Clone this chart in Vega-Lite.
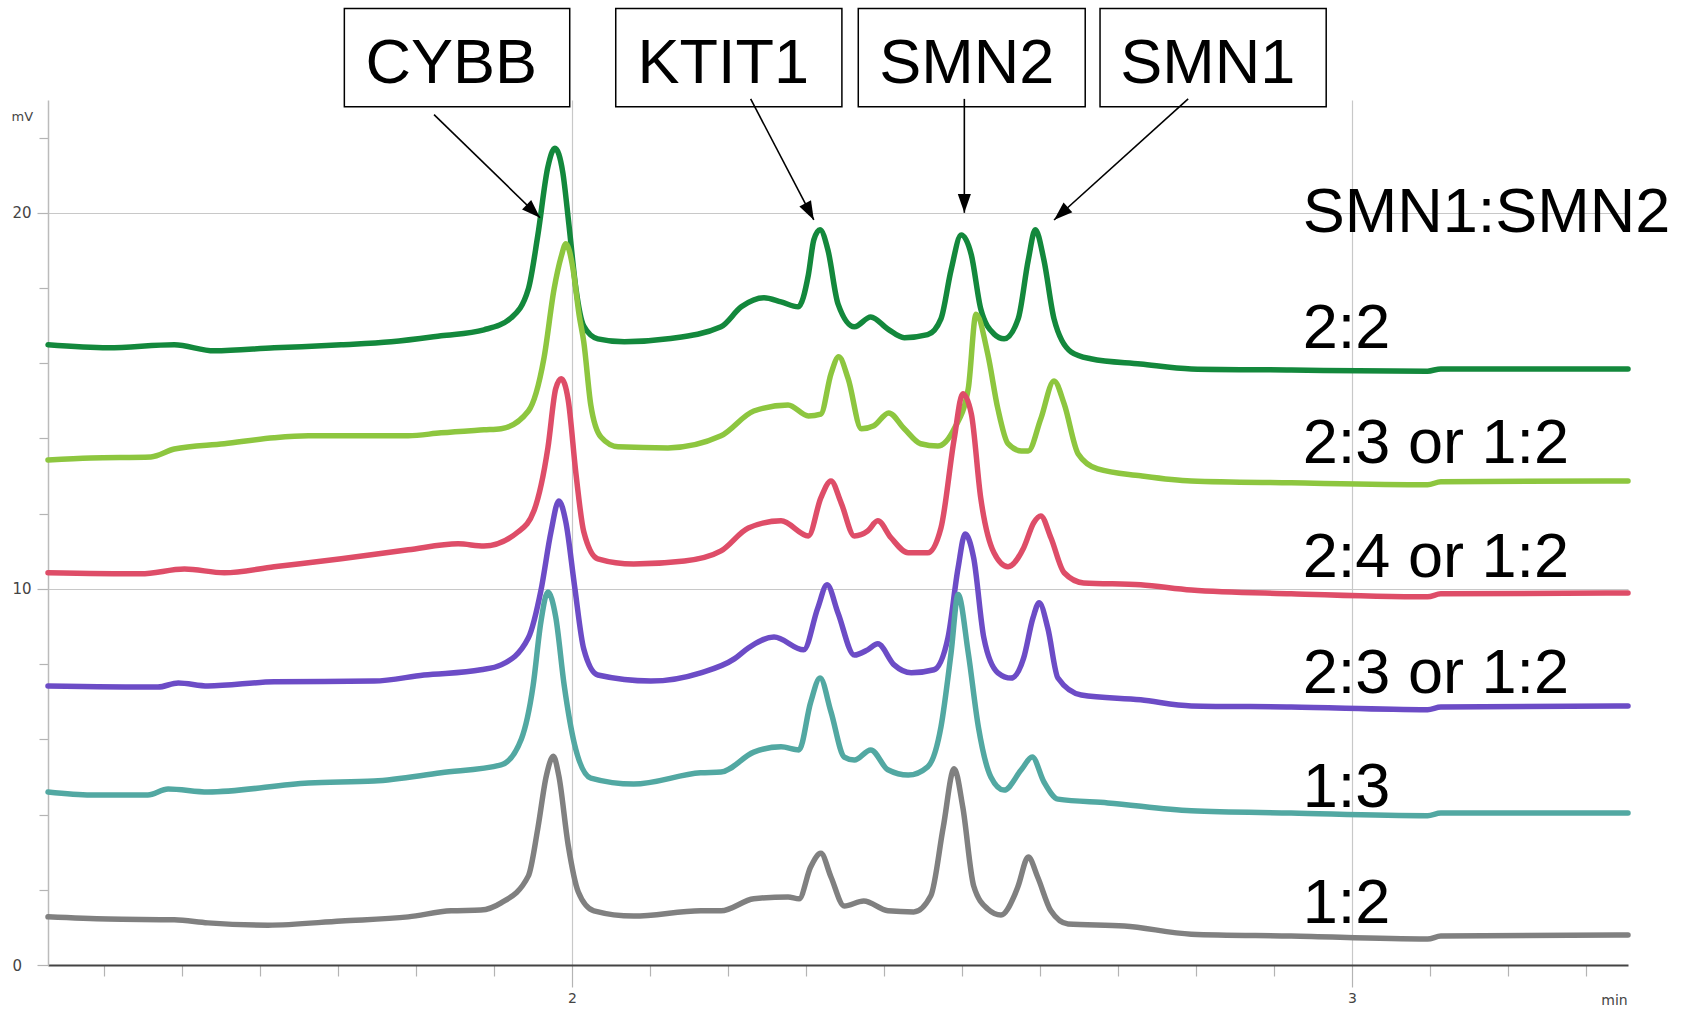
{
  "$schema": "https://vega.github.io/schema/vega-lite/v6.json",
  "width": 1580,
  "height": 865,
  "autosize": {"type": "none"},
  "padding": {"left": 48, "top": 100, "right": 63, "bottom": 44},
  "background": "white",
  "config": {"view": {"stroke": null}, "font": "Liberation Sans"},
  "datasets": {
    "traces": [
      {"s":"A","t":1.328,"v":16.49},{"s":"A","t":1.405,"v":16.41},{"s":"A","t":1.490,"v":16.49},{"s":"A","t":1.541,"v":16.33},{"s":"A","t":1.618,"v":16.41},{"s":"A","t":1.704,"v":16.49},{"s":"A","t":1.768,"v":16.57},{"s":"A","t":1.832,"v":16.73},{"s":"A","t":1.887,"v":16.89},{"s":"A","t":1.922,"v":17.21},{"s":"A","t":1.944,"v":17.98},{"s":"A","t":1.956,"v":19.39},{"s":"A","t":1.969,"v":21.22},{"s":"A","t":1.978,"v":21.72},{"s":"A","t":1.988,"v":21.09},{"s":"A","t":1.996,"v":19.68},{"s":"A","t":2.005,"v":17.98},{"s":"A","t":2.015,"v":16.99},{"s":"A","t":2.033,"v":16.65},{"s":"A","t":2.067,"v":16.57},{"s":"A","t":2.123,"v":16.65},{"s":"A","t":2.191,"v":16.97},{"s":"A","t":2.217,"v":17.50},{"s":"A","t":2.246,"v":17.74},{"s":"A","t":2.268,"v":17.63},{"s":"A","t":2.290,"v":17.50},{"s":"A","t":2.303,"v":18.35},{"s":"A","t":2.310,"v":19.28},{"s":"A","t":2.318,"v":19.55},{"s":"A","t":2.328,"v":19.02},{"s":"A","t":2.341,"v":17.58},{"s":"A","t":2.362,"v":16.97},{"s":"A","t":2.383,"v":17.23},{"s":"A","t":2.405,"v":16.91},{"s":"A","t":2.426,"v":16.68},{"s":"A","t":2.456,"v":16.76},{"s":"A","t":2.473,"v":17.18},{"s":"A","t":2.486,"v":18.48},{"s":"A","t":2.499,"v":19.41},{"s":"A","t":2.512,"v":18.88},{"s":"A","t":2.524,"v":17.45},{"s":"A","t":2.541,"v":16.78},{"s":"A","t":2.554,"v":16.65},{"s":"A","t":2.572,"v":17.18},{"s":"A","t":2.585,"v":18.75},{"s":"A","t":2.594,"v":19.55},{"s":"A","t":2.605,"v":18.75},{"s":"A","t":2.618,"v":17.18},{"s":"A","t":2.640,"v":16.30},{"s":"A","t":2.665,"v":16.12},{"s":"A","t":2.729,"v":15.98},{"s":"A","t":2.794,"v":15.85},{"s":"A","t":2.922,"v":15.82},{"s":"A","t":3.097,"v":15.79},{"s":"A","t":3.114,"v":15.85},{"s":"A","t":3.354,"v":15.85},
      {"s":"B","t":1.328,"v":13.43},{"s":"B","t":1.383,"v":13.48},{"s":"B","t":1.460,"v":13.51},{"s":"B","t":1.490,"v":13.72},{"s":"B","t":1.554,"v":13.86},{"s":"B","t":1.618,"v":14.02},{"s":"B","t":1.662,"v":14.07},{"s":"B","t":1.790,"v":14.07},{"s":"B","t":1.832,"v":14.15},{"s":"B","t":1.887,"v":14.23},{"s":"B","t":1.909,"v":14.26},{"s":"B","t":1.944,"v":14.73},{"s":"B","t":1.964,"v":16.14},{"s":"B","t":1.977,"v":17.98},{"s":"B","t":1.986,"v":18.83},{"s":"B","t":1.992,"v":19.18},{"s":"B","t":2.001,"v":18.54},{"s":"B","t":2.009,"v":17.29},{"s":"B","t":2.015,"v":16.57},{"s":"B","t":2.024,"v":14.89},{"s":"B","t":2.037,"v":14.04},{"s":"B","t":2.059,"v":13.78},{"s":"B","t":2.123,"v":13.75},{"s":"B","t":2.191,"v":14.07},{"s":"B","t":2.233,"v":14.73},{"s":"B","t":2.277,"v":14.89},{"s":"B","t":2.303,"v":14.60},{"s":"B","t":2.319,"v":14.65},{"s":"B","t":2.332,"v":15.72},{"s":"B","t":2.342,"v":16.17},{"s":"B","t":2.354,"v":15.59},{"s":"B","t":2.371,"v":14.26},{"s":"B","t":2.387,"v":14.34},{"s":"B","t":2.406,"v":14.68},{"s":"B","t":2.426,"v":14.26},{"s":"B","t":2.447,"v":13.86},{"s":"B","t":2.469,"v":13.80},{"s":"B","t":2.490,"v":14.26},{"s":"B","t":2.508,"v":15.32},{"s":"B","t":2.518,"v":17.30},{"s":"B","t":2.533,"v":16.25},{"s":"B","t":2.546,"v":14.79},{"s":"B","t":2.559,"v":13.86},{"s":"B","t":2.576,"v":13.67},{"s":"B","t":2.585,"v":13.67},{"s":"B","t":2.601,"v":14.52},{"s":"B","t":2.618,"v":15.53},{"s":"B","t":2.631,"v":14.92},{"s":"B","t":2.649,"v":13.59},{"s":"B","t":2.674,"v":13.19},{"s":"B","t":2.729,"v":13.01},{"s":"B","t":2.794,"v":12.87},{"s":"B","t":2.922,"v":12.82},{"s":"B","t":3.097,"v":12.77},{"s":"B","t":3.114,"v":12.85},{"s":"B","t":3.354,"v":12.87},
      {"s":"C","t":1.328,"v":10.43},{"s":"C","t":1.447,"v":10.40},{"s":"C","t":1.503,"v":10.53},{"s":"C","t":1.554,"v":10.43},{"s":"C","t":1.618,"v":10.59},{"s":"C","t":1.704,"v":10.80},{"s":"C","t":1.790,"v":11.04},{"s":"C","t":1.854,"v":11.20},{"s":"C","t":1.887,"v":11.14},{"s":"C","t":1.931,"v":11.52},{"s":"C","t":1.951,"v":12.07},{"s":"C","t":1.969,"v":13.75},{"s":"C","t":1.979,"v":15.32},{"s":"C","t":1.986,"v":15.59},{"s":"C","t":1.995,"v":15.03},{"s":"C","t":2.005,"v":13.06},{"s":"C","t":2.015,"v":11.52},{"s":"C","t":2.033,"v":10.80},{"s":"C","t":2.079,"v":10.66},{"s":"C","t":2.144,"v":10.74},{"s":"C","t":2.191,"v":11.01},{"s":"C","t":2.226,"v":11.62},{"s":"C","t":2.268,"v":11.81},{"s":"C","t":2.303,"v":11.41},{"s":"C","t":2.319,"v":12.42},{"s":"C","t":2.332,"v":12.87},{"s":"C","t":2.345,"v":12.29},{"s":"C","t":2.362,"v":11.41},{"s":"C","t":2.379,"v":11.54},{"s":"C","t":2.392,"v":11.81},{"s":"C","t":2.409,"v":11.36},{"s":"C","t":2.431,"v":10.96},{"s":"C","t":2.456,"v":10.96},{"s":"C","t":2.473,"v":11.62},{"s":"C","t":2.490,"v":13.99},{"s":"C","t":2.501,"v":15.19},{"s":"C","t":2.512,"v":14.65},{"s":"C","t":2.524,"v":12.42},{"s":"C","t":2.541,"v":10.96},{"s":"C","t":2.559,"v":10.59},{"s":"C","t":2.579,"v":11.09},{"s":"C","t":2.592,"v":11.76},{"s":"C","t":2.601,"v":11.94},{"s":"C","t":2.614,"v":11.36},{"s":"C","t":2.631,"v":10.43},{"s":"C","t":2.656,"v":10.16},{"s":"C","t":2.729,"v":10.11},{"s":"C","t":2.794,"v":9.97},{"s":"C","t":2.922,"v":9.87},{"s":"C","t":3.097,"v":9.79},{"s":"C","t":3.114,"v":9.87},{"s":"C","t":3.354,"v":9.89},
      {"s":"D","t":1.328,"v":7.42},{"s":"D","t":1.469,"v":7.39},{"s":"D","t":1.495,"v":7.50},{"s":"D","t":1.533,"v":7.42},{"s":"D","t":1.618,"v":7.53},{"s":"D","t":1.746,"v":7.55},{"s":"D","t":1.810,"v":7.71},{"s":"D","t":1.883,"v":7.85},{"s":"D","t":1.909,"v":7.98},{"s":"D","t":1.944,"v":8.70},{"s":"D","t":1.960,"v":9.95},{"s":"D","t":1.973,"v":11.52},{"s":"D","t":1.983,"v":12.34},{"s":"D","t":1.992,"v":11.78},{"s":"D","t":2.003,"v":10.11},{"s":"D","t":2.015,"v":8.40},{"s":"D","t":2.033,"v":7.71},{"s":"D","t":2.101,"v":7.55},{"s":"D","t":2.165,"v":7.77},{"s":"D","t":2.208,"v":8.14},{"s":"D","t":2.226,"v":8.43},{"s":"D","t":2.259,"v":8.72},{"s":"D","t":2.297,"v":8.38},{"s":"D","t":2.315,"v":9.49},{"s":"D","t":2.327,"v":10.11},{"s":"D","t":2.341,"v":9.36},{"s":"D","t":2.362,"v":8.24},{"s":"D","t":2.379,"v":8.38},{"s":"D","t":2.392,"v":8.54},{"s":"D","t":2.413,"v":7.98},{"s":"D","t":2.435,"v":7.77},{"s":"D","t":2.464,"v":7.85},{"s":"D","t":2.482,"v":8.70},{"s":"D","t":2.495,"v":10.56},{"s":"D","t":2.504,"v":11.46},{"s":"D","t":2.515,"v":10.82},{"s":"D","t":2.528,"v":8.70},{"s":"D","t":2.546,"v":7.77},{"s":"D","t":2.563,"v":7.63},{"s":"D","t":2.579,"v":8.16},{"s":"D","t":2.591,"v":9.23},{"s":"D","t":2.599,"v":9.63},{"s":"D","t":2.610,"v":8.96},{"s":"D","t":2.623,"v":7.63},{"s":"D","t":2.653,"v":7.18},{"s":"D","t":2.729,"v":7.05},{"s":"D","t":2.794,"v":6.89},{"s":"D","t":2.922,"v":6.86},{"s":"D","t":3.097,"v":6.79},{"s":"D","t":3.114,"v":6.86},{"s":"D","t":3.354,"v":6.89},
      {"s":"E","t":1.328,"v":4.60},{"s":"E","t":1.383,"v":4.52},{"s":"E","t":1.456,"v":4.52},{"s":"E","t":1.482,"v":4.68},{"s":"E","t":1.533,"v":4.60},{"s":"E","t":1.662,"v":4.84},{"s":"E","t":1.746,"v":4.89},{"s":"E","t":1.832,"v":5.11},{"s":"E","t":1.909,"v":5.32},{"s":"E","t":1.935,"v":6.01},{"s":"E","t":1.950,"v":7.42},{"s":"E","t":1.960,"v":9.12},{"s":"E","t":1.969,"v":9.92},{"s":"E","t":1.979,"v":9.26},{"s":"E","t":1.990,"v":7.42},{"s":"E","t":2.003,"v":5.88},{"s":"E","t":2.024,"v":4.97},{"s":"E","t":2.079,"v":4.81},{"s":"E","t":2.165,"v":5.11},{"s":"E","t":2.191,"v":5.13},{"s":"E","t":2.233,"v":5.66},{"s":"E","t":2.268,"v":5.80},{"s":"E","t":2.291,"v":5.72},{"s":"E","t":2.306,"v":6.99},{"s":"E","t":2.318,"v":7.63},{"s":"E","t":2.332,"v":6.73},{"s":"E","t":2.349,"v":5.53},{"s":"E","t":2.362,"v":5.45},{"s":"E","t":2.383,"v":5.72},{"s":"E","t":2.405,"v":5.19},{"s":"E","t":2.431,"v":5.05},{"s":"E","t":2.456,"v":5.27},{"s":"E","t":2.473,"v":6.33},{"s":"E","t":2.486,"v":8.30},{"s":"E","t":2.495,"v":9.85},{"s":"E","t":2.508,"v":8.30},{"s":"E","t":2.521,"v":6.33},{"s":"E","t":2.537,"v":5.00},{"s":"E","t":2.554,"v":4.65},{"s":"E","t":2.576,"v":5.19},{"s":"E","t":2.590,"v":5.53},{"s":"E","t":2.605,"v":4.87},{"s":"E","t":2.623,"v":4.41},{"s":"E","t":2.687,"v":4.31},{"s":"E","t":2.794,"v":4.10},{"s":"E","t":2.922,"v":4.04},{"s":"E","t":3.097,"v":3.97},{"s":"E","t":3.114,"v":4.04},{"s":"E","t":3.354,"v":4.04},
      {"s":"F","t":1.328,"v":1.28},{"s":"F","t":1.405,"v":1.22},{"s":"F","t":1.490,"v":1.20},{"s":"F","t":1.533,"v":1.12},{"s":"F","t":1.610,"v":1.06},{"s":"F","t":1.704,"v":1.17},{"s":"F","t":1.790,"v":1.28},{"s":"F","t":1.845,"v":1.44},{"s":"F","t":1.883,"v":1.46},{"s":"F","t":1.909,"v":1.65},{"s":"F","t":1.944,"v":2.37},{"s":"F","t":1.956,"v":3.62},{"s":"F","t":1.967,"v":5.03},{"s":"F","t":1.976,"v":5.55},{"s":"F","t":1.983,"v":5.03},{"s":"F","t":1.995,"v":3.19},{"s":"F","t":2.008,"v":1.94},{"s":"F","t":2.028,"v":1.44},{"s":"F","t":2.079,"v":1.30},{"s":"F","t":2.165,"v":1.44},{"s":"F","t":2.191,"v":1.44},{"s":"F","t":2.233,"v":1.76},{"s":"F","t":2.277,"v":1.81},{"s":"F","t":2.291,"v":1.76},{"s":"F","t":2.306,"v":2.61},{"s":"F","t":2.319,"v":2.97},{"s":"F","t":2.332,"v":2.34},{"s":"F","t":2.349,"v":1.57},{"s":"F","t":2.374,"v":1.70},{"s":"F","t":2.405,"v":1.44},{"s":"F","t":2.438,"v":1.41},{"s":"F","t":2.460,"v":1.84},{"s":"F","t":2.476,"v":3.67},{"s":"F","t":2.490,"v":5.22},{"s":"F","t":2.501,"v":4.20},{"s":"F","t":2.515,"v":2.10},{"s":"F","t":2.533,"v":1.49},{"s":"F","t":2.550,"v":1.33},{"s":"F","t":2.567,"v":1.84},{"s":"F","t":2.572,"v":2.10},{"s":"F","t":2.585,"v":2.87},{"s":"F","t":2.597,"v":2.34},{"s":"F","t":2.614,"v":1.44},{"s":"F","t":2.636,"v":1.09},{"s":"F","t":2.708,"v":1.04},{"s":"F","t":2.794,"v":0.82},{"s":"F","t":2.922,"v":0.77},{"s":"F","t":3.097,"v":0.69},{"s":"F","t":3.114,"v":0.77},{"s":"F","t":3.354,"v":0.80}
    ],
    "boxes": [
      {"gene":"CYBB","x1":1.708,"x2":1.997,"y1":22.82,"y2":25.43,"tx":1.845,"ty":23.46},
      {"gene":"KTIT1","x1":2.056,"x2":2.346,"y1":22.82,"y2":25.43,"tx":2.194,"ty":23.46},
      {"gene":"SMN2","x1":2.367,"x2":2.658,"y1":22.82,"y2":25.43,"tx":2.506,"ty":23.46},
      {"gene":"SMN1","x1":2.677,"x2":2.967,"y1":22.82,"y2":25.43,"tx":2.815,"ty":23.46}
    ],
    "arrows": [
      {"gene":"CYBB","x1":1.823,"y1":22.61,"x2":1.959,"y2":19.87},
      {"gene":"KTIT1","x1":2.229,"y1":23.03,"x2":2.310,"y2":19.81},
      {"gene":"SMN2","x1":2.503,"y1":23.03,"x2":2.503,"y2":20.0},
      {"gene":"SMN1","x1":2.790,"y1":23.03,"x2":2.618,"y2":19.81}
    ],
    "ratios": [
      {"label":"SMN1:SMN2","x":2.937,"y":19.48},
      {"label":"2:2","x":2.937,"y":16.40},
      {"label":"2:3 or 1:2","x":2.937,"y":13.36},
      {"label":"2:4 or 1:2","x":2.937,"y":10.31},
      {"label":"2:3 or 1:2","x":2.937,"y":7.22},
      {"label":"1:3","x":2.937,"y":4.19},
      {"label":"1:2","x":2.937,"y":1.13}
    ]
  },
  "layer": [
    {
      "data": {"name": "traces"},
      "mark": {"type": "line", "strokeWidth": 5.5, "interpolate": "monotone", "strokeJoin": "round", "strokeCap": "round"},
      "encoding": {
        "x": {
          "field": "t", "type": "quantitative",
          "scale": {"domain": [1.328, 3.354], "nice": false, "zero": false},
          "axis": {
            "values": [1.4,1.5,1.6,1.7,1.8,1.9,2,2.1,2.2,2.3,2.4,2.5,2.6,2.7,2.8,2.9,3,3.1,3.2,3.3],
            "labelExpr": "datum.value % 1 === 0 ? format(datum.value, 'd') : ''",
            "grid": true,
            "gridColor": "#c8c8c8",
            "gridWidth": 1.2,
            "gridOpacity": {"condition": {"test": "datum.value % 1 === 0", "value": 1}, "value": 0},
            "tickSize": {"condition": {"test": "datum.value % 1 === 0", "value": 22}, "value": 11},
            "tickColor": "#b4b4b4",
            "tickWidth": 1.2,
            "domainColor": "#444444",
            "domainWidth": 2,
            "labelFont": "DejaVu Sans",
            "labelFontSize": 14,
            "labelColor": "#444444",
            "labelPadding": 4,
            "labelFlush": false,
            "labelOverlap": false,
            "title": "min",
            "titleFont": "DejaVu Sans",
            "titleFontSize": 14,
            "titleFontWeight": "normal",
            "titleColor": "#444444",
            "titleX": 1566,
            "titleY": 35,
            "titleAlign": "center",
            "titleBaseline": "middle",
            "titleAnchor": null
          }
        },
        "y": {
          "field": "v", "type": "quantitative",
          "scale": {"domain": [0, 23], "nice": false, "zero": false},
          "axis": {
            "values": [0,1,2,3,4,5,6,7,8,9,10,11,12,13,14,15,16,17,18,19,20,21,22],
            "labelExpr": "datum.value % 10 === 0 ? format(datum.value, 'd') : ''",
            "grid": true,
            "gridColor": "#c8c8c8",
            "gridWidth": 1.2,
            "gridOpacity": {"condition": {"test": "datum.value % 10 === 0 && datum.value > 0", "value": 1}, "value": 0},
            "tickSize": {"condition": {"test": "datum.value % 10 === 0", "value": 11}, "value": 9},
            "tickColor": "#b4b4b4",
            "tickWidth": 1.2,
            "domainColor": "#bbbbbb",
            "domainWidth": 1.5,
            "labelFont": "DejaVu Sans",
            "labelFontSize": 15,
            "labelColor": "#444444",
            "labelAlign": "left",
            "labelPadding": 25,
            "labelOverlap": false,
            "title": "mV",
            "titleFont": "DejaVu Sans",
            "titleFontSize": 13,
            "titleFontWeight": "normal",
            "titleColor": "#444444",
            "titleAngle": 0,
            "titleX": -37,
            "titleY": 16,
            "titleAlign": "left",
            "titleBaseline": "middle",
            "titleAnchor": null
          }
        },
        "color": {
          "field": "s", "type": "nominal",
          "scale": {"domain": ["A","B","C","D","E","F"], "range": ["#13883c", "#8dc63f", "#de4d68", "#6c4cc6", "#52a8a2", "#808080"]},
          "legend": null
        }
      }
    },
    {
      "data": {"name": "boxes"},
      "mark": {"type": "rect", "fill": "white", "stroke": "black", "strokeWidth": 1.5},
      "encoding": {
        "x": {"field": "x1", "type": "quantitative", "scale": {"domain": [1.328, 3.354], "nice": false, "zero": false}},
        "x2": {"field": "x2"},
        "y": {"field": "y1", "type": "quantitative", "scale": {"domain": [0, 23], "nice": false, "zero": false}},
        "y2": {"field": "y2"}
      }
    },
    {
      "data": {"name": "boxes"},
      "mark": {"type": "text", "font": "Liberation Sans", "fontSize": 63, "align": "center", "baseline": "alphabetic", "color": "black"},
      "encoding": {
        "x": {"field": "tx", "type": "quantitative", "scale": {"domain": [1.328, 3.354], "nice": false, "zero": false}},
        "y": {"field": "ty", "type": "quantitative", "scale": {"domain": [0, 23], "nice": false, "zero": false}},
        "text": {"field": "gene"}
      }
    },
    {
      "data": {"name": "arrows"},
      "mark": {"type": "rule", "color": "black", "strokeWidth": 1.6},
      "encoding": {
        "x": {"field": "x1", "type": "quantitative", "scale": {"domain": [1.328, 3.354], "nice": false, "zero": false}},
        "y": {"field": "y1", "type": "quantitative", "scale": {"domain": [0, 23], "nice": false, "zero": false}},
        "x2": {"field": "x2"},
        "y2": {"field": "y2"}
      }
    },
    {
      "data": {"name": "arrows"},
      "transform": [{"filter": "datum.gene === 'CYBB'"}],
      "mark": {"type": "point", "shape": "M0,0L-0.35,1L0.35,1Z", "filled": true, "color": "black", "size": 1400, "opacity": 1, "angle": 134},
      "encoding": {
        "x": {"field": "x2", "type": "quantitative", "scale": {"domain": [1.328, 3.354], "nice": false, "zero": false}},
        "y": {"field": "y2", "type": "quantitative", "scale": {"domain": [0, 23], "nice": false, "zero": false}}
      }
    },
    {
      "data": {"name": "arrows"},
      "transform": [{"filter": "datum.gene === 'KTIT1'"}],
      "mark": {"type": "point", "shape": "M0,0L-0.35,1L0.35,1Z", "filled": true, "color": "black", "size": 1400, "opacity": 1, "angle": 152.5},
      "encoding": {
        "x": {"field": "x2", "type": "quantitative", "scale": {"domain": [1.328, 3.354], "nice": false, "zero": false}},
        "y": {"field": "y2", "type": "quantitative", "scale": {"domain": [0, 23], "nice": false, "zero": false}}
      }
    },
    {
      "data": {"name": "arrows"},
      "transform": [{"filter": "datum.gene === 'SMN2'"}],
      "mark": {"type": "point", "shape": "M0,0L-0.35,1L0.35,1Z", "filled": true, "color": "black", "size": 1400, "opacity": 1, "angle": 180},
      "encoding": {
        "x": {"field": "x2", "type": "quantitative", "scale": {"domain": [1.328, 3.354], "nice": false, "zero": false}},
        "y": {"field": "y2", "type": "quantitative", "scale": {"domain": [0, 23], "nice": false, "zero": false}}
      }
    },
    {
      "data": {"name": "arrows"},
      "transform": [{"filter": "datum.gene === 'SMN1'"}],
      "mark": {"type": "point", "shape": "M0,0L-0.35,1L0.35,1Z", "filled": true, "color": "black", "size": 1400, "opacity": 1, "angle": 228},
      "encoding": {
        "x": {"field": "x2", "type": "quantitative", "scale": {"domain": [1.328, 3.354], "nice": false, "zero": false}},
        "y": {"field": "y2", "type": "quantitative", "scale": {"domain": [0, 23], "nice": false, "zero": false}}
      }
    },
    {
      "data": {"name": "ratios"},
      "mark": {"type": "text", "font": "Liberation Sans", "fontSize": 63, "align": "left", "baseline": "alphabetic", "color": "black"},
      "encoding": {
        "x": {"field": "x", "type": "quantitative", "scale": {"domain": [1.328, 3.354], "nice": false, "zero": false}},
        "y": {"field": "y", "type": "quantitative", "scale": {"domain": [0, 23], "nice": false, "zero": false}},
        "text": {"field": "label"}
      }
    }
  ]
}
